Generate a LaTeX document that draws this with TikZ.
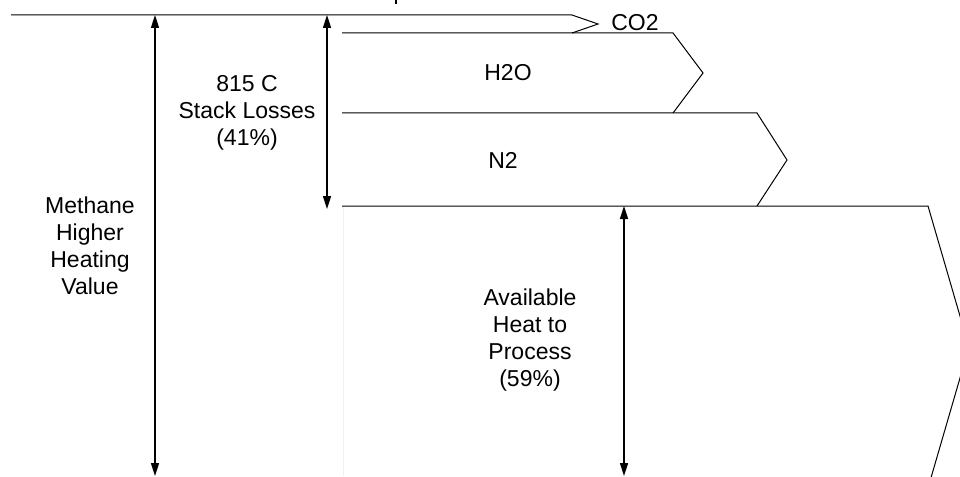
\documentclass[tikz,border=0pt]{standalone}
\usepackage{fontspec}
\setmainfont{Liberation Sans}
\usetikzlibrary{arrows.meta}
\begin{document}
\begin{tikzpicture}[x=1pt,y=-1pt,
  flow/.style={draw=black,line width=1pt,line join=miter},
  dim/.style={draw=black,line width=1.6pt,{Triangle[length=13pt,width=8pt]}-{Triangle[length=13pt,width=8pt]}},
  lbl/.style={font=\fontsize{23}{27}\selectfont,align=center,inner sep=0pt}]
\useasboundingbox (0,0) rectangle (960,476);
\clip (0,0) rectangle (960,476);
% stream outlines
\draw[flow] (11,15) -- (572,15) -- (598,24) -- (572,33);
\draw[flow] (342,33) -- (673,33) -- (703,73) -- (673,113);
\draw[flow] (342,113) -- (757,113) -- (787,160) -- (757,206);
\draw[flow] (342,206) -- (928,206) -- (969,347) -- (928,488);
\draw[draw=black!6,line width=0.8pt] (343,207) -- (343,476);
% fragment of cut-off text at top
\draw[line width=1.6pt] (396,0) -- (396,4);
% dimension anchors
\coordinate (hhvT) at (155,15);
\coordinate (hhvB) at (155,476);
\coordinate (stkT) at (327,15);
\coordinate (stkB) at (327,209);
\coordinate (avT) at (624,206);
\coordinate (avB) at (624,476);
\draw[dim] (hhvT) -- (hhvB);
\draw[dim] (stkT) -- (stkB);
\draw[dim] (avT) -- (avB);
% labels
\node[lbl] (stack) at (247,113) {815 C\\Stack Losses\\(41\%)};
\node[lbl] (hhv) at (90,246) {Methane\\Higher\\Heating\\Value};
\node[lbl] (avail) at (530,340) {Available\\Heat to\\Process\\(59\%)};
\node[lbl] (co2) at (635,23) {CO2};
\node[lbl] (h2o) at (508,73) {H2O};
\node[lbl] (n2) at (503,160) {N2};
\end{tikzpicture}
\end{document}
